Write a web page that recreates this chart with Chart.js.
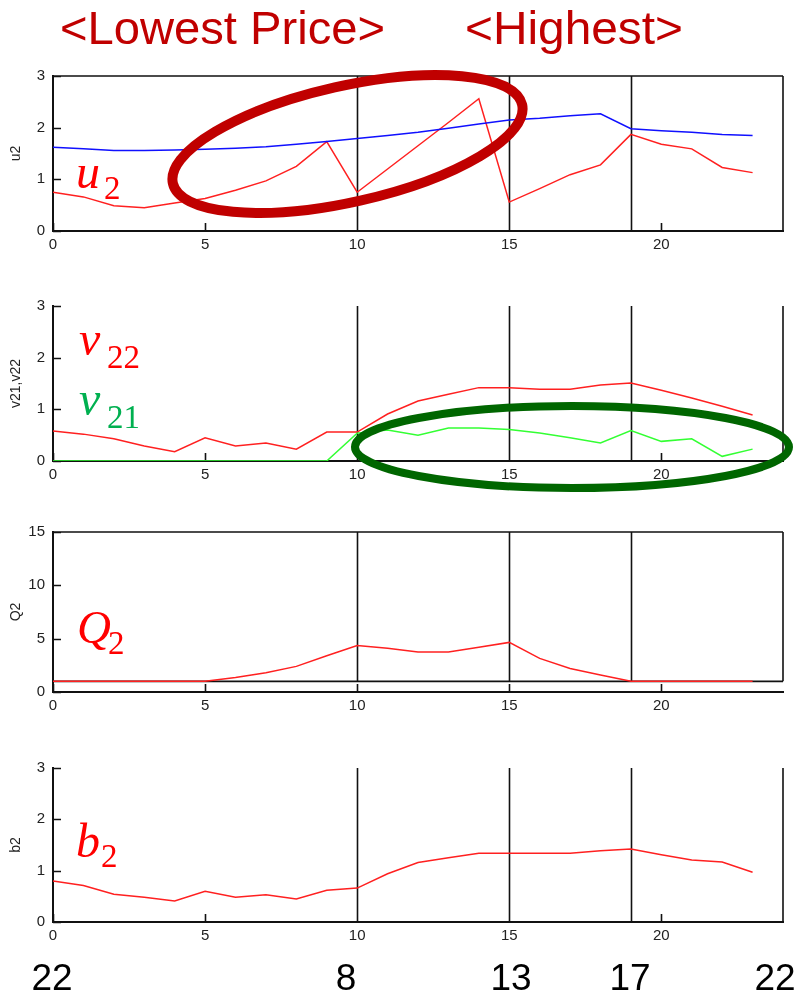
<!DOCTYPE html>
<html>
<head>
<meta charset="utf-8">
<script src="https://cdn.jsdelivr.net/npm/chart.js@4/dist/chart.umd.min.js"></script>
<style>
  html, body { margin: 0; padding: 0; background: #fff; }
  #page { position: relative; width: 800px; height: 998px; overflow: hidden; }
  .panel { position: absolute; left: 0; width: 800px; }
  #overlay { position: absolute; left: 0; top: 0; pointer-events: none; }
</style>
</head>
<body>
<div id="page">
  <div class="panel" style="top:59px"><canvas id="u2Chart" width="800" height="200"></canvas></div>
  <div class="panel" style="top:289px"><canvas id="vChart" width="800" height="200"></canvas></div>
  <div class="panel" style="top:515px"><canvas id="qChart" width="800" height="205"></canvas></div>
  <div class="panel" style="top:751px"><canvas id="bChart" width="800" height="199"></canvas></div>

  <svg id="overlay" width="800" height="998" xmlns="http://www.w3.org/2000/svg">
    <g font-family="Liberation Sans, Arial, sans-serif" fill="#C00000" font-size="46">
      <text x="60" y="44" textLength="325" lengthAdjust="spacingAndGlyphs">&lt;Lowest Price&gt;</text>
      <text x="465" y="44" textLength="218" lengthAdjust="spacingAndGlyphs">&lt;Highest&gt;</text>
    </g>
    <ellipse cx="347.5" cy="144" rx="179" ry="58" transform="rotate(-12.7 347.5 144)"
             fill="none" stroke="#C00000" stroke-width="10"/>
    <ellipse cx="572" cy="447" rx="217" ry="41" fill="none" stroke="#006600" stroke-width="8"/>

    <g font-family="Liberation Serif, serif">
      <text x="76" y="188" fill="#FF0000" font-size="48" font-style="italic">u</text>
      <text x="104" y="199" fill="#FF0000" font-size="33">2</text>
      <text x="79" y="355" fill="#FF0000" font-size="48" font-style="italic">v</text>
      <text x="107" y="368" fill="#FF0000" font-size="33">22</text>
      <text x="79" y="415" fill="#00B050" font-size="48" font-style="italic">v</text>
      <text x="107" y="428" fill="#00B050" font-size="33">21</text>
      <text x="77" y="643" fill="#FF0000" font-size="47" font-style="italic">Q</text>
      <text x="108" y="654" fill="#FF0000" font-size="33">2</text>
      <text x="76" y="857" fill="#FF0000" font-size="48" font-style="italic">b</text>
      <text x="101" y="867" fill="#FF0000" font-size="33">2</text>
    </g>

    <g font-family="Liberation Sans, Arial, sans-serif" fill="#000" font-size="37" text-anchor="middle">
      <text x="52" y="990">22</text>
      <text x="346" y="990">8</text>
      <text x="511" y="990">13</text>
      <text x="630" y="990">17</text>
      <text x="775" y="990">22</text>
    </g>
  </svg>
</div>

<script>
// hours along the x axis
const hours = [0, 1, 2, 3, 4, 5, 6, 7, 8, 9, 10, 11, 12, 13, 14, 15, 16, 17, 18, 19, 20, 21, 22, 23];

// u2: red (with price schedule) and blue (baseline)
const u2Red  = [0.75, 0.66, 0.49, 0.45, 0.54, 0.63, 0.79, 0.97, 1.25, 1.73, 0.75, 1.20,
                1.65, 2.10, 2.56, 0.56, 0.82, 1.09, 1.28, 1.87, 1.68, 1.59, 1.23, 1.13];
const u2Blue = [1.62, 1.59, 1.56, 1.56, 1.57, 1.58, 1.60, 1.63, 1.68, 1.73, 1.79, 1.85,
                1.91, 1.99, 2.07, 2.15, 2.18, 2.23, 2.27, 1.98, 1.94, 1.91, 1.87, 1.85];

// v22 (red) and v21 (green)
const v22 = [0.58, 0.52, 0.43, 0.29, 0.18, 0.45, 0.29, 0.35, 0.23, 0.56, 0.56, 0.91,
             1.16, 1.29, 1.42, 1.42, 1.39, 1.39, 1.47, 1.51, 1.37, 1.22, 1.06, 0.89];
const v21 = [0, 0, 0, 0, 0, 0, 0, 0, 0, 0, 0.54, 0.60,
             0.50, 0.64, 0.64, 0.61, 0.54, 0.45, 0.35, 0.59, 0.38, 0.43, 0.09, 0.23];

// Q2
const q2 = [1, 1, 1, 1, 1, 1, 1.35, 1.8, 2.4, 3.4, 4.35, 4.1,
            3.75, 3.75, 4.2, 4.65, 3.15, 2.2, 1.6, 1.0, 1, 1, 1, 1];

// b2
const b2 = [0.80, 0.71, 0.54, 0.48, 0.41, 0.60, 0.48, 0.53, 0.45, 0.62, 0.66, 0.94,
            1.16, 1.25, 1.34, 1.34, 1.34, 1.34, 1.39, 1.42, 1.31, 1.21, 1.17, 0.97];

// tick labels / reference lines
const xTicks = [0, 5, 10, 15, 20];
const xMax = 24;
const smallTicks = [0, 1, 2, 3];
const qTicks = [0, 5, 10, 15];
const markers = [10, 15, 19];

const tickFont = { family: "'Liberation Sans Narrow', 'Liberation Sans', Arial, sans-serif", size: 15 };

// vertical reference lines, right frame, optional top frame, inward ticks
const framePlugin = {
    id: "frame",
    beforeDatasetsDraw(chart, args, opts) {
        const { ctx, chartArea: a, scales: { x, y } } = chart;
        const low = opts.floor != null ? y.getPixelForValue(opts.floor) : a.bottom;
        ctx.save();
        ctx.strokeStyle = "#111";
        ctx.lineWidth = 1.6;
        ctx.beginPath();
        markers.forEach(function (v) {
            const px = Math.round(x.getPixelForValue(v)) + 0.5;
            ctx.moveTo(px, a.top);
            ctx.lineTo(px, low);
        });
        ctx.moveTo(a.right, a.top);
        ctx.lineTo(a.right, low);
        if (opts.top) {
            ctx.moveTo(a.left, a.top);
            ctx.lineTo(a.right, a.top);
        }
        if (opts.floor != null) {
            ctx.moveTo(a.left, low);
            ctx.lineTo(a.right, low);
        }
        x.ticks.forEach(function (t) {
            const px = Math.round(x.getPixelForValue(t.value)) + 0.5;
            ctx.moveTo(px, a.bottom);
            ctx.lineTo(px, a.bottom - 8);
        });
        y.ticks.forEach(function (t) {
            const py = Math.round(y.getPixelForValue(t.value)) + 0.5;
            ctx.moveTo(a.left, py);
            ctx.lineTo(a.left + 8, py);
        });
        ctx.stroke();
        ctx.restore();
    }
};

function series(values, color) {
    return {
        data: hours.map(function (h, i) { return { x: h, y: values[i] }; }),
        borderColor: color,
        borderWidth: 1.5,
        pointRadius: 0,
        tension: 0,
        fill: false
    };
}

function makeChart(id, title, yTicks, datasets, frame) {
    return new Chart(document.getElementById(id), {
        type: "line",
        data: { datasets: datasets },
        plugins: [framePlugin],
        options: {
            responsive: false,
            animation: false,
            events: [],
            layout: { padding: { left: 0, right: 17, top: 10, bottom: 0 } },
            plugins: {
                legend: { display: false },
                tooltip: { enabled: false },
                frame: frame
            },
            scales: {
                x: {
                    type: "linear",
                    min: 0,
                    max: xMax,
                    afterBuildTicks: function (s) { s.ticks = xTicks.map(function (v) { return { value: v }; }); },
                    afterFit: function (s) { s.height = 28; },
                    grid: { display: false, drawTicks: false },
                    border: { display: true, color: "#111", width: 2 },
                    ticks: { font: tickFont, color: "#222", padding: 5, maxRotation: 0 }
                },
                y: {
                    type: "linear",
                    min: yTicks[0],
                    max: yTicks[yTicks.length - 1],
                    afterBuildTicks: function (s) { s.ticks = yTicks.map(function (v) { return { value: v }; }); },
                    afterFit: function (s) { s.width = 53; },
                    grid: { display: false, drawTicks: false },
                    border: { display: true, color: "#111", width: 2 },
                    ticks: { font: tickFont, color: "#222", padding: 8 },
                    title: {
                        display: true,
                        text: title,
                        color: "#222",
                        font: { family: "'Liberation Sans', Arial, sans-serif", size: 14 },
                        padding: { top: 8, bottom: 0 }
                    }
                }
            }
        }
    });
}

makeChart("u2Chart", "u2", smallTicks,
    [series(u2Blue, "#1010FF"), series(u2Red, "#FF2020")],
    { top: true, floor: null });

makeChart("vChart", "v21,v22", smallTicks,
    [series(v21, "#33FF33"), series(v22, "#FF2020")],
    { top: false, floor: null });

makeChart("qChart", "Q2", qTicks,
    [series(q2, "#FF2020")],
    { top: true, floor: 1 });

makeChart("bChart", "b2", smallTicks,
    [series(b2, "#FF2020")],
    { top: false, floor: null });
</script>
</body>
</html>
